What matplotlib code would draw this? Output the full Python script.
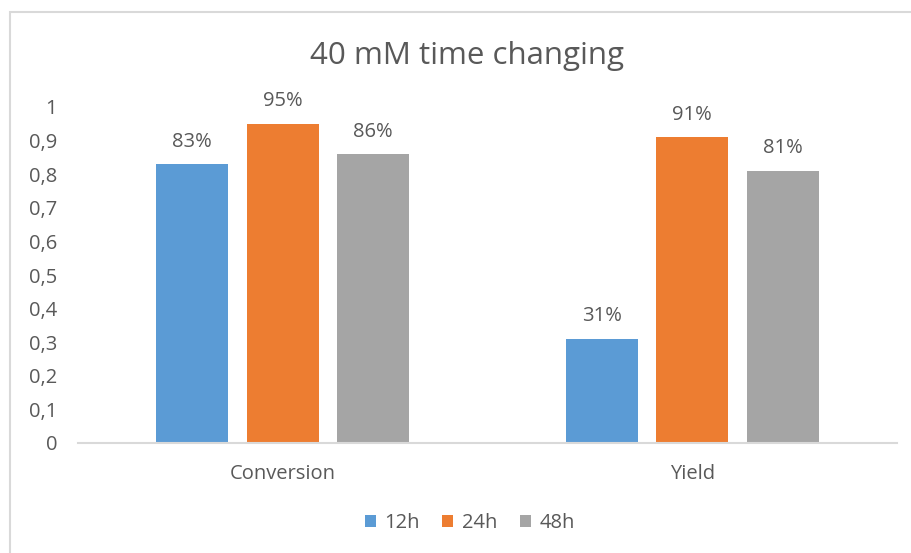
import numpy as np
import matplotlib.pyplot as plt
from matplotlib.patches import Rectangle

# Data
categories = ['Conversion', 'Yield']
series = ['12h', '24h', '48h']
values_12h = [0.83, 0.31]
values_24h = [0.95, 0.91]
values_48h = [0.86, 0.81]
y_ticks = [0, 0.1, 0.2, 0.3, 0.4, 0.5, 0.6, 0.7, 0.8, 0.9, 1]
y_tick_labels = ['0', '0,1', '0,2', '0,3', '0,4', '0,5', '0,6', '0,7', '0,8', '0,9', '1']

colors = ['#5B9BD5', '#ED7D31', '#A5A5A5']
text_col = '#595959'
plt.rcParams['font.family'] = ['Open Sans', 'DejaVu Sans']

fig = plt.figure(figsize=(9.12, 5.53), dpi=100)
ax = fig.add_axes([78/912, 1-443/553, (897-78)/912, (443-107)/553])

# Chart frame (light gray border)
fig.patches.append(Rectangle((10/912, -0.1), 1.1, 1-12/553+0.1, transform=fig.transFigure,
                             fill=False, edgecolor='#D9D9D9', lw=1.5))

x = np.arange(len(categories))
width = 0.176
step = 0.221
for i, (vals, name) in enumerate(zip([values_12h, values_24h, values_48h], series)):
    bars = ax.bar(x + (i-1)*step, vals, width, color=colors[i], label=name)
    for b, v in zip(bars, vals):
        ax.annotate(f'{round(v*100)}%', (b.get_x()+b.get_width()/2, v),
                    xytext=(0, 9), textcoords='offset points',
                    ha='center', va='bottom', fontsize=14.5, color=text_col)

ax.set_xlim(-0.5, 1.5)
ax.set_ylim(0, 1)
ax.set_xticks(x)
ax.set_xticklabels(categories, fontsize=14.5, color=text_col)
ax.set_yticks(y_ticks)
ax.set_yticklabels(y_tick_labels, fontsize=14.5, color=text_col)
ax.tick_params(length=0)
ax.tick_params(axis='x', pad=15)
ax.tick_params(axis='y', pad=15)
for s in ['top', 'right', 'left']:
    ax.spines[s].set_visible(False)
ax.spines['bottom'].set_color('#D9D9D9')
ax.spines['bottom'].set_linewidth(1.5)

fig.text(467/912, 1-56/553, '40 mM time changing', ha='center', va='center',
         fontsize=22.5, color=text_col)

leg = fig.legend(loc='center', bbox_to_anchor=(470/912, 1-523/553), ncol=3, frameon=False,
                 fontsize=14.5, handlelength=0.55, handleheight=0.55, handletextpad=0.45,
                 columnspacing=1.1)
for t in leg.get_texts():
    t.set_color(text_col)

fig.savefig('out.png', dpi=100)
